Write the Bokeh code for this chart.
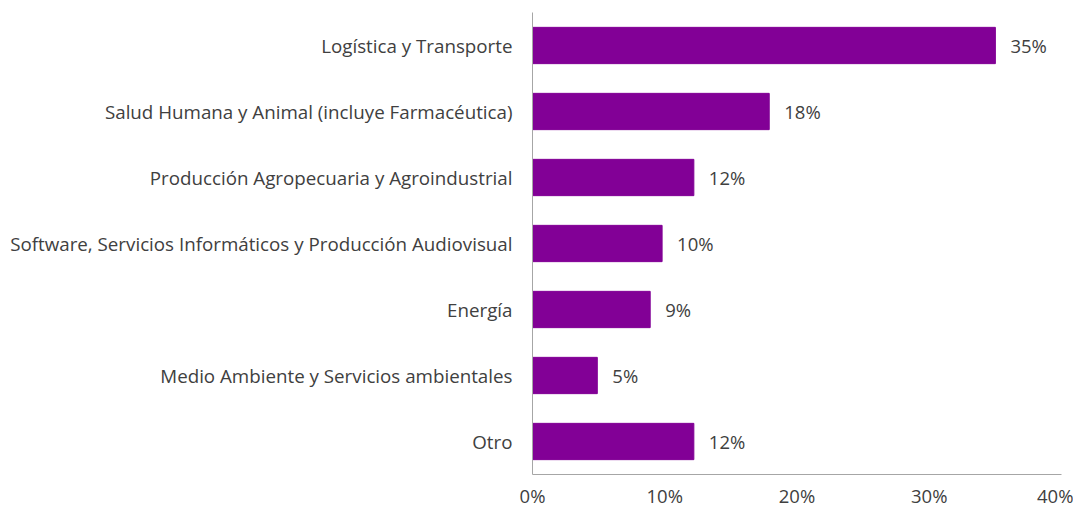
from bokeh.plotting import figure
from bokeh.models import ColumnDataSource, FactorRange, Range1d, PrintfTickFormatter
from bokeh.core.properties import value
from bokeh.embed import file_html
from bokeh.resources import INLINE

categories = [
    "Logística y Transporte",
    "Salud Humana y Animal (incluye Farmacéutica)",
    "Producción Agropecuaria y Agroindustrial",
    "Software, Servicios Informáticos y Producción Audiovisual",
    "Energía",
    "Medio Ambiente y Servicios ambientales",
    "Otro",
]
values = [35.0, 17.9, 12.2, 9.8, 8.9, 4.9, 12.2]
labels = ["35%", "18%", "12%", "10%", "9%", "5%", "12%"]
x_ticks = [0, 10, 20, 30, 40]

FONT = "Open Sans"
TXT = "#404040"
BAR = "#820096"
AX = "#A6A6A6"

src = ColumnDataSource(dict(cat=categories, val=values, lab=labels))

p = figure(
    width=1073, height=510,
    y_range=FactorRange(factors=categories[::-1], range_padding=0),
    x_range=Range1d(0, 40),
    output_backend="svg", toolbar_location=None,
    min_border_left=532, min_border_right=12, min_border_top=12, min_border_bottom=10,
)
p.hbar(y="cat", right="val", left=0, height=0.55, source=src, color=BAR)
p.text(x="val", y="cat", text="lab", source=src, x_offset=15,
       text_baseline="middle", text_align="left",
       text_font=value(FONT), text_font_size="18.5px", text_color=TXT)

p.xgrid.visible = False
p.ygrid.visible = False
p.outline_line_color = None

p.xaxis.ticker = x_ticks
p.xaxis.formatter = PrintfTickFormatter(format="%d%%")
p.xaxis.axis_line_color = AX
p.xaxis.major_tick_line_color = None
p.xaxis.minor_tick_line_color = None
p.xaxis.major_label_standoff = 2
p.xaxis.major_label_text_font = FONT
p.xaxis.major_label_text_font_size = "18.5px"
p.xaxis.major_label_text_color = TXT

p.yaxis.axis_line_color = AX
p.yaxis.major_tick_line_color = None
p.yaxis.minor_tick_line_color = None
p.yaxis.major_label_standoff = 14
p.yaxis.major_label_text_font = FONT
p.yaxis.major_label_text_font_size = "18.75px"
p.yaxis.major_label_text_color = TXT

open("out.html", "w").write(file_html(p, INLINE))
